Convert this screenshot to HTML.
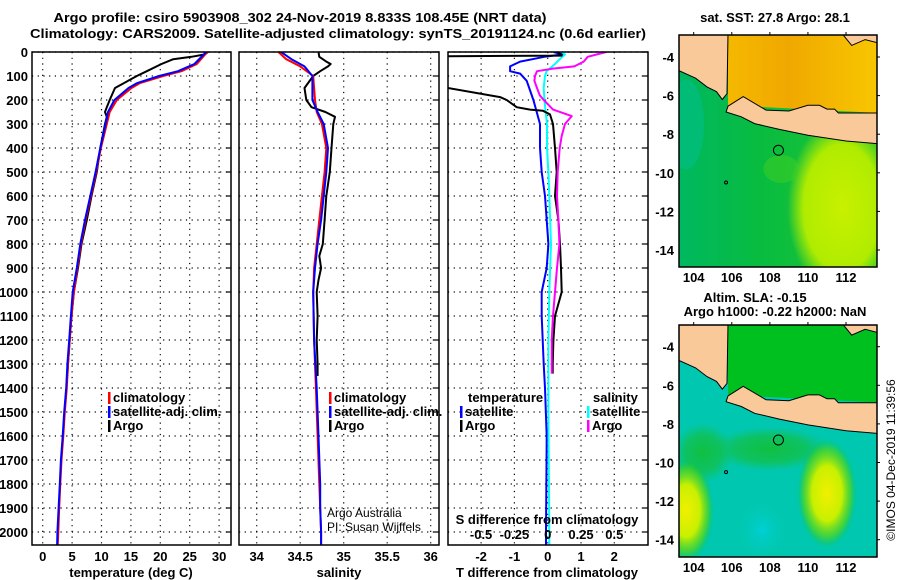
<!DOCTYPE html>
<html><head><meta charset="utf-8">
<style>
html,body{margin:0;padding:0;background:#fff;}
svg{display:block;font-family:"Liberation Sans",sans-serif;}
.b{font-weight:bold;font-size:13px;}
.n{font-weight:normal;font-size:12px;}
</style></head>
<body>
<svg id="chart" width="900" height="580" viewBox="0 0 900 580" xmlns="http://www.w3.org/2000/svg">
<defs>
<clipPath id="c1"><rect x="32" y="52" width="199" height="493"/></clipPath>
<clipPath id="c2"><rect x="239" y="52" width="200" height="493"/></clipPath>
<clipPath id="c3"><rect x="448" y="52" width="200" height="493"/></clipPath>
<clipPath id="m1"><rect x="679" y="35" width="198" height="232"/></clipPath>
<clipPath id="m2"><rect x="679" y="325" width="198" height="232"/></clipPath>
<radialGradient id="yg1" cx="0.5" cy="0.5" r="0.5"><stop offset="0" stop-color="#c8f000"/><stop offset="0.7" stop-color="#b0ec00"/><stop offset="1" stop-color="#b0ec00" stop-opacity="0"/></radialGradient>
<radialGradient id="yb" cx="0.5" cy="0.5" r="0.5"><stop offset="0" stop-color="#f0f000"/><stop offset="0.5" stop-color="#c8f000"/><stop offset="0.8" stop-color="#60d800" stop-opacity="0.6"/><stop offset="1" stop-color="#00c040" stop-opacity="0"/></radialGradient>
<radialGradient id="cy" cx="0.5" cy="0.5" r="0.5"><stop offset="0" stop-color="#00d0d8"/><stop offset="1" stop-color="#00c8b0" stop-opacity="0"/></radialGradient>
<radialGradient id="gr" cx="0.5" cy="0.5" r="0.5"><stop offset="0" stop-color="#10c040"/><stop offset="0.6" stop-color="#10c050" stop-opacity="0.8"/><stop offset="1" stop-color="#10c060" stop-opacity="0"/></radialGradient>
<linearGradient id="sea1" x1="0" y1="0" x2="1" y2="0"><stop offset="0" stop-color="#00b860"/><stop offset="0.4" stop-color="#08bc40"/><stop offset="1" stop-color="#20c430"/></linearGradient>
<linearGradient id="org" x1="0" y1="0" x2="1" y2="0"><stop offset="0" stop-color="#f5b800"/><stop offset="0.4" stop-color="#f0a800"/><stop offset="1" stop-color="#f8c800"/></linearGradient>
</defs>
<g id="root"></g>
</svg>
<script>
// ---- data ----
const tickDepths = [0,100,200,300,400,500,600,700,800,900,1000,1100,1200,1300,1400,1500,1600,1700,1800,1900,2000];
const tempTicks = [0,5,10,15,20,25,30];
const salTicks = [34,34.5,35,35.5,36];
const salTickLabels = ["34","34.5","35","35.5","36"];
const tdTicks = [-2,-1,0,1,2];
const sdTicks = [-0.5,-0.25,0,0.25,0.5];
const sdTickLabels = ["-0.5","-0.25","0","0.25","0.5"];
const lonTicks = [104,106,108,110,112];
const latTicks = [-4,-6,-8,-10,-12,-14];

const argoTDepth = [0,10,20,30,50,80,100,150,200,230,250,270,300,400,500,600,700,800,900,1000,1100,1200,1300,1350];
const argoTemp  = [28.1,27.6,25.3,22.2,20.2,17.7,16.0,12.3,11.4,10.9,10.6,10.9,10.6,9.8,9.2,8.3,7.5,6.6,6.0,5.3,4.9,4.6,4.3,4.2];
const climDepth = [0,50,80,100,130,150,200,250,300,400,500,600,700,800,900,1000,1100,1200,1300,1400,1500,1600,1700,1800,1900,2000,2060];
const climTemp  = [28.0,26.2,23.6,20.5,16.5,15.1,12.6,11.4,10.9,9.9,9.1,8.2,7.3,6.5,5.9,5.3,4.9,4.6,4.3,4.1,3.75,3.5,3.2,3.0,2.8,2.65,2.55];
const satTemp   = [27.8,25.8,23.0,19.8,16.0,14.6,12.2,11.1,10.7,9.8,9.0,8.1,7.2,6.4,5.8,5.1,4.8,4.5,4.2,4.0,3.65,3.4,3.1,2.9,2.7,2.5,2.45];

const argoSDepth = [0,20,40,50,60,80,100,150,200,230,250,270,300,400,500,600,700,800,850,900,950,1000,1100,1200,1300,1350];
const argoSal    = [34.71,34.72,34.80,34.85,34.82,34.73,34.65,34.55,34.57,34.63,34.79,34.90,34.88,34.86,34.84,34.80,34.78,34.76,34.72,34.74,34.71,34.69,34.70,34.69,34.70,34.70];
const climSDepth = [0,30,60,100,200,250,300,400,500,600,700,800,900,1000,1200,1400,1600,1800,1900,2000,2060];
const climSal    = [34.25,34.34,34.50,34.65,34.67,34.69,34.75,34.80,34.78,34.75,34.72,34.69,34.66,34.65,34.66,34.68,34.70,34.72,34.73,34.74,34.74];
const satSal     = [34.28,34.40,34.55,34.64,34.64,34.70,34.77,34.82,34.80,34.77,34.74,34.70,34.67,34.65,34.66,34.69,34.71,34.73,34.73,34.74,34.74];

const dArgoTDepth = [0,15,18,145,150,188,200,230,240,245,260,300,400,500,600,700,800,900,1000,1100,1200,1300,1340];
const dArgoT      = [0.3,0.42,-3.5,-3.5,-3.0,-1.43,-1.23,-0.93,-0.53,-0.14,0.07,0.16,0.22,0.27,0.22,0.32,0.37,0.40,0.42,0.22,0.17,0.15,0.15];
const dSatTDepth  = [0,10,20,40,60,80,90,120,200,300,400,500,600,700,800,900,1000,1100,1200,1300,1400,1600,2000,2060];
const dSatT       = [0.17,0.46,-0.1,-0.83,-1.13,-1.13,-0.83,-0.63,-0.43,-0.23,-0.23,-0.18,-0.08,-0.03,0.02,-0.03,-0.18,-0.18,-0.15,-0.12,-0.08,-0.03,-0.05,-0.05];
const dArgoSDepth = [0,10,20,40,60,70,80,100,120,150,180,200,240,267,300,350,400,500,600,700,800,900,1000,1100,1200,1300,1340];
const dArgoS      = [0.44,0.37,0.30,0.27,0.20,0.03,-0.08,-0.095,-0.10,-0.08,-0.06,-0.03,0.04,0.18,0.13,0.105,0.09,0.075,0.07,0.08,0.088,0.07,0.055,0.04,0.03,0.03,0.03];
const dSatSDepth  = [0,10,30,50,80,100,150,200,300,400,500,600,800,1000,1200,1500,2000,2060];
const dSatS       = [0.105,0.13,0.09,0.055,-0.008,-0.02,-0.03,-0.025,-0.005,-0.005,0.005,0.012,0.025,0.012,0.005,0.005,0.012,0.012];

// ---- axes ----
const yD = d => 52 + d*0.24;
const xT = t => 42.7 + t*5.88;
const xS = s => 256.7 + (s-34)*87;
const xTD = d => 547.7 + d*33.3;
const xSD = s => 547.7 + s*133.2;
const mLon = lon => 693.7 + (lon-104)*19.04;
const mLat1 = lat => 57 + (-4-lat)*19.3;
const mLat2 = lat => 346.7 + (-4-lat)*19.3;

const NS = "http://www.w3.org/2000/svg";
const root = document.getElementById('root');
function mk(tag, attrs, parent, name){
  const el = document.createElementNS(NS, tag);
  for (const k in attrs) el.setAttribute(k, attrs[k]);
  
  
  (parent||root).appendChild(el);
  return el;
}
function txt(x,y,s,anchor,cls,name,parent,extra){
  const a = Object.assign({x:x,y:y,'text-anchor':anchor||'start','class':cls||'b'}, extra||{});
  const t = mk('text', a, parent, name);
  t.textContent = s;
  return t;
}
function line(pts, color, clip, name, w){
  const g = mk('g', {'clip-path':'url(#'+clip+')'}, root, name+'-group');
  mk('polyline', {points: pts.map(p=>p[0].toFixed(1)+','+p[1].toFixed(1)).join(' '), fill:'none', stroke:color, 'stroke-width':w||2, 'stroke-linejoin':'round'}, g, name);
}

// titles
txt(300,22,"Argo profile: csiro 5903908_302 24-Nov-2019 8.833S 108.45E (NRT data)","middle","b","title-line-1",root,{textLength:493,lengthAdjust:'spacingAndGlyphs'});
txt(338,38,"Climatology: CARS2009. Satellite-adjusted climatology: synTS_20191124.nc (0.6d earlier)","middle","b","title-line-2",root,{textLength:616,lengthAdjust:'spacingAndGlyphs'});

const panels = [
  {x:32,w:199,clip:'c1',name:'temperature-panel'},
  {x:239,w:200,clip:'c2',name:'salinity-panel'},
  {x:448,w:200,clip:'c3',name:'difference-panel'}
];
const grid = mk('g', {stroke:'#000','stroke-width':1.2,'stroke-dasharray':'1.2,4.5'}, root, 'grid-lines');
panels.forEach(p=>{
  tickDepths.forEach(d=>{
    mk('line',{x1:p.x,x2:p.x+p.w,y1:yD(d),y2:yD(d)},grid,'depth-gridline');
    mk('line',{x1:p.x+p.w-5,x2:p.x+p.w,y1:yD(d),y2:yD(d),'stroke-dasharray':'none'},grid,'depth-tick-right');
  });
});
tempTicks.forEach(t=>{ mk('line',{x1:xT(t),x2:xT(t),y1:52,y2:545},grid,'temp-gridline'); txt(xT(t),561,String(t),'middle','b','temp-tick-label'); });
salTicks.forEach((s,i)=>{ mk('line',{x1:xS(s),x2:xS(s),y1:52,y2:545},grid,'sal-gridline'); txt(xS(s),561,salTickLabels[i],'middle','b','sal-tick-label'); });
tdTicks.forEach(t=>{ mk('line',{x1:xTD(t),x2:xTD(t),y1:52,y2:545},grid,'tdiff-gridline'); txt(xTD(t),561,String(t),'middle','b','tdiff-tick-label'); });
tickDepths.forEach(d=>{ txt(28,yD(d)+5,String(d),'end','b','depth-tick-label'); });

// series
line(argoTDepth.map((d,i)=>[xT(argoTemp[i]),yD(d)]),'#000','c1','temp-argo-line');
line(climDepth.map((d,i)=>[xT(climTemp[i]),yD(d)]),'#ff0000','c1','temp-climatology-line');
line(climDepth.map((d,i)=>[xT(satTemp[i]),yD(d)]),'#0000ff','c1','temp-satellite-line');
line(argoSDepth.map((d,i)=>[xS(argoSal[i]),yD(d)]),'#000','c2','sal-argo-line');
line(climSDepth.map((d,i)=>[xS(climSal[i]),yD(d)]),'#ff0000','c2','sal-climatology-line');
line(climSDepth.map((d,i)=>[xS(satSal[i]),yD(d)]),'#0000ff','c2','sal-satellite-line');
line(dSatTDepth.map((d,i)=>[xTD(dSatT[i]),yD(d)]),'#0000ff','c3','tdiff-satellite-line');
line(dSatSDepth.map((d,i)=>[xSD(dSatS[i]),yD(d)]),'#00ffff','c3','sdiff-satellite-line');
line(dArgoTDepth.map((d,i)=>[xTD(dArgoT[i]),yD(d)]),'#000','c3','tdiff-argo-line');
line(dArgoSDepth.map((d,i)=>[xSD(dArgoS[i]),yD(d)]),'#ff00ff','c3','sdiff-argo-line');

// frames
panels.forEach(p=>{ mk('rect',{x:p.x,y:52,width:p.w,height:493,fill:'none',stroke:'#000','stroke-width':1.5},root,p.name+'-frame'); });

// legends
function leg(x,y,color,label,name){
  mk('rect',{x:x,y:y-10,width:2.5,height:12,fill:color},root,name+'-marker');
  txt(x+5,y,label,'start','b',name+'-label');
}
leg(108,402,'#ff0000','climatology','temp-legend-climatology');
leg(108,416,'#0000ff','satellite-adj. clim.','temp-legend-satellite');
leg(108,430,'#000','Argo','temp-legend-argo');
leg(329,402,'#ff0000','climatology','sal-legend-climatology');
leg(329,416,'#0000ff','satellite-adj. clim.','sal-legend-satellite');
leg(329,430,'#000','Argo','sal-legend-argo');
txt(468,402,'temperature','start','b','diff-legend-temperature-heading');
leg(460,416,'#0000ff','satellite','diff-legend-t-satellite');
leg(460,430,'#000','Argo','diff-legend-t-argo');
txt(593,402,'salinity','start','b','diff-legend-salinity-heading');
leg(587,416,'#00ffff','satellite','diff-legend-s-satellite');
leg(587,430,'#ff00ff','Argo','diff-legend-s-argo');
txt(327,517,'Argo Australia','start','n','credit-argo-australia');
txt(327,531,'PI: Susan Wijffels','start','n','credit-pi');
txt(547,524,'S difference from climatology','middle','b','sdiff-axis-title');
sdTicks.forEach((s,i)=>txt(xSD(s),539,sdTickLabels[i],'middle','b','sdiff-tick-label'));
txt(131,577,'temperature (deg C)','middle','b','temp-axis-title');
txt(339,577,'salinity','middle','b','sal-axis-title');
txt(547,577,'T difference from climatology','middle','b','tdiff-axis-title');

// maps
function drawMap(mLat, clip, top, isSST, name){
  const g = mk('g',{'clip-path':'url(#'+clip+')'},root,name);
  const P = pts => pts.map(p=>mLon(p[0]).toFixed(1)+','+mLat(p[1]).toFixed(1)).join(' ');
  if (isSST){
    mk('rect',{x:679,y:top,width:198,height:232,fill:'url(#sea1)'},g,'sst-sea');
    mk('ellipse',{cx:mLon(111.8),cy:mLat(-11.8),rx:55,ry:90,fill:'url(#yg1)'},g,'sst-warm-patch');
    mk('ellipse',{cx:mLon(108.6),cy:mLat(-9.8),rx:18,ry:14,fill:'#40d020',opacity:0.5},g,'sst-patch-2');
    mk('ellipse',{cx:mLon(103.6),cy:mLat(-7.5),rx:18,ry:45,fill:'#00c090',opacity:0.5},g,'sst-coastal');
    mk('polygon',{points:P([[105.8,-2.8],[113.8,-2.8],[113.8,-6.9],[105.8,-6.5]]),fill:'url(#org)'},g,'sst-java-sea');
  } else {
    mk('rect',{x:679,y:top,width:198,height:232,fill:'#00c8b0'},g,'sla-sea');
    mk('ellipse',{cx:mLon(108),cy:mLat(-9.3),rx:60,ry:22,fill:'url(#gr)'},g,'sla-green');
    mk('ellipse',{cx:mLon(104.5),cy:mLat(-9.5),rx:30,ry:30,fill:'url(#gr)'},g,'sla-green-2');
    mk('ellipse',{cx:mLon(111),cy:mLat(-11.6),rx:30,ry:55,fill:'url(#yb)'},g,'sla-high-east');
    mk('ellipse',{cx:mLon(103.6),cy:mLat(-12.5),rx:28,ry:52,fill:'url(#yb)'},g,'sla-high-west');
    mk('ellipse',{cx:mLon(107.6),cy:mLat(-13.5),rx:25,ry:30,fill:'url(#cy)'},g,'sla-low');
    mk('polygon',{points:P([[105.8,-2.8],[113.8,-2.8],[113.8,-6.9],[105.8,-6.5]]),fill:'#00c020'},g,'sla-java-sea');
  }
  mk('polygon',{points:P([[103.2,-2.8],[105.8,-2.8],[105.75,-5.9],[105.5,-6.2],[105.2,-5.8],[104.7,-5.55],[104.1,-5.1],[103.2,-4.7]]),fill:'#f9c99a',stroke:'#000','stroke-width':1},g,'sumatra-land');
  mk('polygon',{points:P([[105.8,-6.55],[106.6,-6.05],[107.8,-6.75],[109,-6.8],[110,-6.5],[110.6,-6.5],[111,-6.7],[111.4,-6.7],[111.6,-6.9],[113.8,-6.9],[113.8,-8.5],[112,-8.35],[110,-8.05],[108.5,-7.75],[107.2,-7.45],[106.5,-7.1],[105.7,-6.85]]),fill:'#f9c99a',stroke:'#000','stroke-width':1},g,'java-land');
  mk('polygon',{points:P([[111.8,-2.8],[113.8,-2.8],[113.8,-3.3],[113,-3.1],[112.3,-3.4]]),fill:'#f9c99a',stroke:'#000','stroke-width':1},g,'borneo-land');
  mk('circle',{cx:mLon(108.45),cy:mLat(-8.833),r:5,fill:'none',stroke:'#000','stroke-width':1},g,'argo-position-marker');
  mk('circle',{cx:mLon(105.7),cy:mLat(-10.5),r:1.5,fill:'none',stroke:'#000','stroke-width':1},g,'christmas-island');
  mk('rect',{x:679,y:top,width:198,height:232,fill:'none',stroke:'#000','stroke-width':1.5},root,name+'-frame');
  lonTicks.forEach(l=>{
    mk('line',{x1:mLon(l),x2:mLon(l),y1:top-3,y2:top,stroke:'#000'},root,'lon-tick');
    txt(mLon(l),top+247,String(l),'middle','b','lon-tick-label');
  });
  latTicks.forEach(l=>{
    mk('line',{x1:877,x2:880,y1:mLat(l),y2:mLat(l),stroke:'#000'},root,'lat-tick');
    txt(674,mLat(l)+5,String(l),'end','b','lat-tick-label');
  });
}
drawMap(mLat1,'m1',35,true,'sst-map');
drawMap(mLat2,'m2',325,false,'sla-map');
txt(775,22,'sat. SST: 27.8 Argo: 28.1','middle','b','sst-map-title');
txt(755,302,'Altim. SLA: -0.15','middle','b','sla-map-title-1');
txt(775,316,'Argo h1000: -0.22 h2000: NaN','middle','b','sla-map-title-2');
txt(0,0,'©IMOS 04-Dec-2019 11:39:56','middle','n','imos-timestamp',root,{transform:'translate(895,460) rotate(-90)'});
</script>
</body></html>
